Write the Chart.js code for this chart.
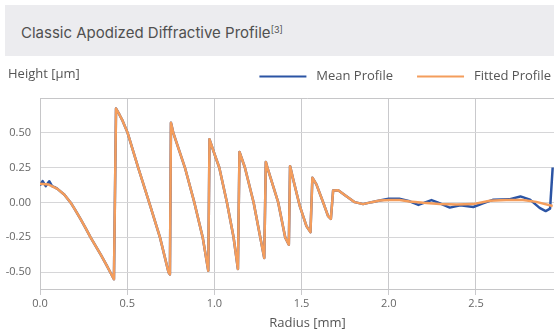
<!DOCTYPE html>
<html>
<head>
<meta charset="utf-8">
<title>Classic Apodized Diffractive Profile</title>
<script src="https://cdn.jsdelivr.net/npm/chart.js@4.4.1/dist/chart.umd.min.js"></script>
<style>
  html, body { margin: 0; padding: 0; background: #fff; }
  body { width: 554px; height: 335px; overflow: hidden; position: relative; }
  .title-box {
    position: absolute; left: 5px; top: 5px; width: 549px; height: 51px;
    background: #ececef; box-sizing: border-box; padding: 3px 0 0 16px;
    display: flex; align-items: center;
    font-family: Inter, "Open Sans", sans-serif; font-size: 15px; color: #505050;
  }
  .title-box sup { font-size: 9px; position: relative; top: -3px; }
  .chart-wrap { position: absolute; left: 0; top: 46px; width: 575px; height: 289px; }
</style>
</head>
<body>
<div class="title-box">Classic Apodized Diffractive Profile<sup>[3]</sup></div>
<div class="chart-wrap"><canvas id="profile-chart"></canvas></div>
<script>
// Radius [mm] and height [um]
const fitR = [0, 0.05, 0.10, 0.14, 0.175, 0.2, 0.232, 0.26, 0.29, 0.35, 0.38, 0.403, 0.424,
  0.436, 0.455, 0.474, 0.502, 0.563, 0.626, 0.688, 0.737, 0.745,
  0.751, 0.764, 0.831, 0.885, 0.933, 0.965,
  0.972, 1.008, 1.028, 1.072, 1.11, 1.135,
  1.144, 1.175, 1.225, 1.263, 1.286,
  1.295, 1.304, 1.366, 1.406, 1.427,
  1.434, 1.452, 1.49, 1.528, 1.551,
  1.562, 1.585, 1.624, 1.652, 1.668,
  1.681, 1.71, 1.757, 1.805, 1.853, 1.901, 1.948, 2.006, 2.063, 2.12,
  2.197, 2.292, 2.388, 2.483, 2.579, 2.674, 2.77, 2.846, 2.94];
const fitH = [0.134, 0.128, 0.097, 0.055, 0.0, -0.05, -0.118, -0.18, -0.25, -0.378, -0.445, -0.5, -0.55,
  0.672, 0.63, 0.584, 0.5, 0.25, 0.0, -0.25, -0.5, -0.515,
  0.57, 0.5, 0.25, 0.0, -0.25, -0.49,
  0.452, 0.32, 0.25, 0.0, -0.25, -0.477,
  0.361, 0.25, 0.0, -0.25, -0.398,
  0.29, 0.25, 0.0, -0.25, -0.302,
  0.26, 0.165, -0.027, -0.17, -0.213,
  0.177, 0.129, 0.0, -0.098, -0.118,
  0.086, 0.088, 0.045, 0.002, -0.012, 0.002, 0.014, 0.017, 0.017, 0.007,
  -0.003, -0.012, -0.015, -0.012, 0.012, 0.017, 0.017, 0.004, -0.025];

// mean profile: own wiggles at the centre and in the flat tail,
// in between it lies under the fitted curve
const meanStartR = [0, 0.015, 0.033, 0.053, 0.069, 0.086];
const meanStartH = [0.122, 0.153, 0.117, 0.152, 0.117, 0.108];
const meanEndR = [1.948, 2.0, 2.06, 2.12, 2.17, 2.245, 2.28, 2.35, 2.41, 2.485,
  2.54, 2.6, 2.69, 2.755, 2.81, 2.865, 2.9, 2.925, 2.94];
const meanEndH = [0.014, 0.027, 0.027, 0.008, -0.018, 0.017, 0.0, -0.037, -0.02, -0.033,
  -0.007, 0.02, 0.022, 0.043, 0.02, -0.039, -0.062, -0.045, 0.25];

const xTicks = [0, 0.5, 1.0, 1.5, 2.0, 2.5];
const yTicks = [-0.5, -0.25, 0, 0.25, 0.5];

const seriesNames = ['Mean Profile', 'Fitted Profile'];
const seriesColors = ['#2b54a4', '#f49d5c'];

function toPoints(rs, hs) {
  return rs.map((r, i) => ({ x: r, y: hs[i] }));
}

const fitPoints = toPoints(fitR, fitH);
const meanPoints = toPoints(meanStartR, meanStartH)
  .concat(fitPoints.filter(p => p.x > 0.09 && p.x < 1.93))
  .concat(toPoints(meanEndR, meanEndH));

const textColor = '#555';
const tickColor = '#666';

// legend height is fixed so the plot top lands where the reference has it
const legendFit = {
  id: 'legendFit',
  afterInit(chart) {
    const legend = chart.legend;
    if (!legend || legend._fitPatched) return;
    const fit = legend.fit;
    legend.fit = function () {
      fit.call(this);
      this.height = 52;
    };
    legend._fitPatched = true;
  }
};

// frame round the plot and the y axis name at the top left
const frame = {
  id: 'frame',
  beforeDatasetsDraw(chart) {
    const { ctx, chartArea: a } = chart;
    ctx.save();
    ctx.strokeStyle = '#c6c6c8';
    ctx.lineWidth = 1;
    ctx.beginPath();
    ctx.moveTo(Math.round(a.left) + 0.5, Math.round(a.bottom) + 0.5);
    ctx.lineTo(Math.round(a.left) + 0.5, Math.round(a.top) + 0.5);
    ctx.lineTo(a.right, Math.round(a.top) + 0.5);
    ctx.stroke();
    ctx.restore();
  },
  afterDraw(chart) {
    const ctx = chart.ctx;
    ctx.save();
    ctx.font = '13px "Open Sans", sans-serif';
    ctx.fillStyle = textColor;
    ctx.textAlign = 'left';
    ctx.textBaseline = 'middle';
    ctx.fillText('Height [µm]', 8, 28);
    ctx.restore();
  }
};

const ctx = document.getElementById('profile-chart').getContext('2d');
const chart = new Chart(ctx, {
  type: 'line',
  data: {
    datasets: [{
      label: seriesNames[0],
      data: meanPoints,
      borderColor: seriesColors[0],
      backgroundColor: seriesColors[0],
      borderWidth: 2.5,
      pointRadius: 0,
      tension: 0,
      borderJoinStyle: 'round',
      order: 1
    }, {
      label: seriesNames[1],
      data: fitPoints,
      borderColor: seriesColors[1],
      backgroundColor: seriesColors[1],
      borderWidth: 2.5,
      pointRadius: 0,
      tension: 0,
      borderJoinStyle: 'round',
      order: 0
    }]
  },
  options: {
    responsive: true,
    maintainAspectRatio: false,
    animation: false,
    layout: { padding: 0 },
    scales: {
      x: {
        type: 'linear',
        min: 0,
        max: 3.068,
        afterBuildTicks: axis => { axis.ticks = xTicks.map(v => ({ value: v })); },
        afterFit: scale => { scale.height = 46; },
        grid: { color: '#c9c9cc', lineWidth: 1, drawTicks: true, tickLength: 6 },
        border: { display: true, color: '#c6c6c8' },
        ticks: {
          padding: 2,
          color: tickColor,
          font: { family: '"Open Sans", sans-serif', size: 11 },
          maxRotation: 0,
          callback: v => Number(v).toFixed(1)
        },
        title: {
          display: true,
          text: 'Radius [mm]',
          color: textColor,
          font: { family: '"Open Sans", sans-serif', size: 13 },
          padding: { top: 4, bottom: 4 }
        }
      },
      y: {
        min: -0.62,
        max: 0.748,
        afterBuildTicks: axis => { axis.ticks = yTicks.map(v => ({ value: v })); },
        afterFit: scale => { scale.width = 40; },
        grid: { color: '#d6d6d8', lineWidth: 1, drawTicks: false },
        border: { display: true, color: '#c6c6c8' },
        ticks: {
          padding: 9,
          color: tickColor,
          font: { family: '"Open Sans", sans-serif', size: 11 },
          callback: v => Number(v).toFixed(2)
        }
      }
    },
    plugins: {
      legend: {
        position: 'top',
        align: 'end',
        labels: {
          boxWidth: 47,
          boxHeight: 2,
          padding: 24,
          color: textColor,
          font: { family: '"Open Sans", sans-serif', size: 13 },
          sort: (a, b) => a.datasetIndex - b.datasetIndex,
          generateLabels: function (chart) {
            const items = Chart.defaults.plugins.legend.labels.generateLabels(chart);
            items.forEach(item => {
              item.text = ' ' + item.text;
              item.lineWidth = 0;
              item.fillStyle = seriesColors[item.datasetIndex];
            });
            return items;
          }
        }
      },
      tooltip: { enabled: false }
    }
  },
  plugins: [legendFit, frame]
});
</script>
</body>
</html>
